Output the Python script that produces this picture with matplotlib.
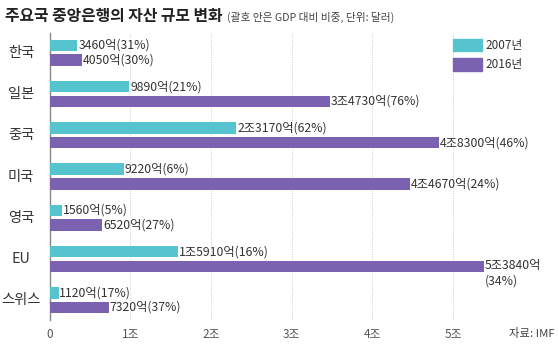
import matplotlib
matplotlib.use("Agg")
import matplotlib.pyplot as plt
from matplotlib.patches import Rectangle
from matplotlib.transforms import blended_transform_factory

plt.rcParams['font.family'] = ['Noto Sans CJK KR', 'DejaVu Sans']

categories = ['한국', '일본', '중국', '미국', '영국', 'EU', '스위스']
v2007 = [0.346, 0.989, 2.317, 0.922, 0.156, 1.591, 0.112]
v2016 = [0.405, 3.473, 4.830, 4.467, 0.652, 5.384, 0.732]
lab2007 = ['3460억(31%)', '9890억(21%)', '2조3170억(62%)', '9220억(6%)',
           '1560억(5%)', '1조5910억(16%)', '1120억(17%)']
lab2016 = ['4050억(30%)', '3조4730억(76%)', '4조8300억(46%)', '4조4670억(24%)',
           '6520억(27%)', '5조3840억\n(34%)', '7320억(37%)']
xticks = [0, 1, 2, 3, 4, 5]
xticklabels = ['0', '1조', '2조', '3조', '4조', '5조']
series_names = ['2007년', '2016년']

c07 = '#55C4CE'
c16 = '#7A62B0'
W, H = 559, 345
fig = plt.figure(figsize=(W/100, H/100), dpi=100)
x0 = 49.5
ax = fig.add_axes([x0/W, (H-320)/H, 1 - x0/W, (320-33)/H])
scale = 80.7
ax.set_xlim(0, (W - x0)/scale)
ax.set_ylim(6.48, -0.48)

off = 0.178
bh = 0.28
ys = list(range(len(categories)))
ax.barh([y - off for y in ys], v2007, height=bh, color=c07, zorder=3)
ax.barh([y + off for y in ys], v2016, height=bh, color=c16, zorder=3)

fs = 8.8
for y, v, t in zip(ys, v2007, lab2007):
    ax.text(v + 0.01, y - off, t, va='center', ha='left', fontsize=fs,
            color='#333333', zorder=4)
for y, v, t in zip(ys, v2016, lab2016):
    if '\n' in t:
        ax.text(v + 0.01, y + off - 0.17, t, va='top', ha='left', fontsize=fs,
                color='#333333', zorder=4, linespacing=1.2)
    else:
        ax.text(v + 0.01, y + off, t, va='center', ha='left', fontsize=fs,
                color='#333333', zorder=4)

# category labels
ax.set_yticks(ys)
ax.set_yticklabels([])
trans = blended_transform_factory(fig.transFigure, ax.transData)
for y, c in zip(ys, categories):
    fig.text(21/W, 0, c, transform=trans, fontsize=10.3, color='#333333',
             ha='center', va='center').set_y(y)

ax.set_xticks(xticks)
ax.set_xticklabels(xticklabels, fontsize=8.5, color='#555555')
ax.tick_params(axis='both', length=0)
ax.tick_params(axis='x', pad=6)
for s in ['top', 'right', 'bottom']:
    ax.spines[s].set_visible(False)
ax.spines['left'].set_color('#888888')
ax.spines['left'].set_linewidth(1.0)
ax.grid(axis='x', linestyle=(0, (1, 1.5)), color='#cccccc', linewidth=0.7, zorder=0)
ax.set_axisbelow(True)

# title
fig.text(5/W, 1 - 16/H, '주요국 중앙은행의 자산 규모 변화', fontsize=11.4,
         fontweight='bold', color='#222222', va='center', ha='left')
fig.text(227/W, 1 - 17/H, '(괄호 안은 GDP 대비 비중, 단위: 달러)', fontsize=7.7,
         color='#444444', va='center', ha='left')

# legend
for i, (name, c) in enumerate(zip(series_names, [c07, c16])):
    yc = 45 + i * 19.5
    fig.patches.append(Rectangle((453/W, 1 - (yc + 6)/H), 29/W, 12/H,
                                 transform=fig.transFigure, color=c))
    fig.text(485/W, 1 - yc/H, name, fontsize=8.5, color='#333333',
             va='center', ha='left')

fig.text(555/W, 1 - 333/H, '자료: IMF', fontsize=8.2, color='#444444',
         va='center', ha='right')

fig.savefig('out.png', dpi=100)
